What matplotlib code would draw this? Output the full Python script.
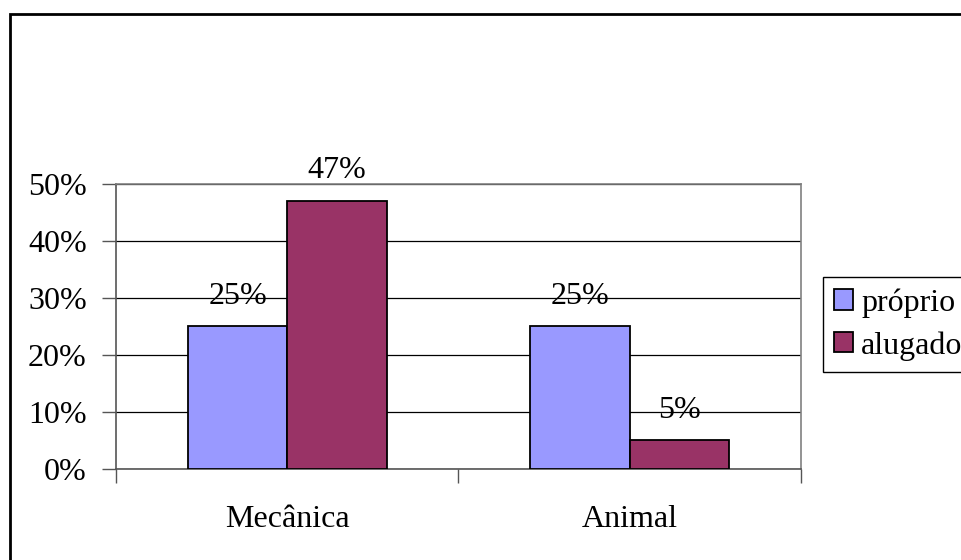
import matplotlib
matplotlib.use("Agg")
import matplotlib.pyplot as plt
from matplotlib.patches import Rectangle
from matplotlib.ticker import FixedLocator, FixedFormatter
import numpy as np

categories = ["Mecânica", "Animal"]
series_names = ["próprio", "alugado"]
proprio = [0.25, 0.25]
alugado = [0.47, 0.05]
yticks = [0.0, 0.1, 0.2, 0.3, 0.4, 0.5]
ytick_labels = ["0%", "10%", "20%", "30%", "40%", "50%"]
colors = ["#9999FF", "#993366"]

plt.rcParams['font.family'] = ['Liberation Serif', 'DejaVu Serif']
FS = 23

fig = plt.figure(figsize=(9.62, 5.60), dpi=100)
ax = fig.add_axes([116/962, 1 - 469/560, (801 - 116)/962, (469 - 183.5)/560])

x = np.arange(len(categories))
w = 0.29
series = [proprio, alugado]
offsets = [-w/2, w/2]
for vals, off, col, name in zip(series, offsets, colors, series_names):
    bars = ax.bar(x + off, vals, width=w, color=col, edgecolor="black", linewidth=1.3, label=name, zorder=3)
    for b, v in zip(bars, vals):
        ax.annotate(f"{round(v*100)}%", (b.get_x() + b.get_width()/2, v),
                    xytext=(0, 16), textcoords="offset points",
                    ha="center", va="baseline", fontsize=FS, zorder=4)

ax.set_xlim(-0.5, len(categories) - 0.5)
ax.set_ylim(0, 0.5)
ax.yaxis.set_major_locator(FixedLocator(yticks))
ax.yaxis.set_major_formatter(FixedFormatter(ytick_labels))
ax.yaxis.grid(True, color="black", linewidth=0.9, zorder=1)
ax.set_axisbelow(True)

ax.set_xticks(x)
ax.set_xticklabels(categories)
ax.set_xticks(np.arange(-0.5, len(categories)), minor=True)
ax.tick_params(axis="x", which="major", length=0, pad=26, labelsize=FS)
ax.tick_params(axis="x", which="minor", length=10, width=1, color="#555555", direction="out")
ax.tick_params(axis="y", which="major", length=10, width=1, color="#555555", direction="out", pad=11, labelsize=FS)

for s in ["top", "right"]:
    ax.spines[s].set_color("#808080")
    ax.spines[s].set_linewidth(1.2)
for s in ["left", "bottom"]:
    ax.spines[s].set_color("#555555")
    ax.spines[s].set_linewidth(1.2)

leg = fig.legend(loc="upper left", bbox_to_anchor=(823/962, 1 - 277/560), fontsize=FS,
                 frameon=True, fancybox=False, edgecolor="black", framealpha=1,
                 handlelength=0.6, handleheight=0.6, handletextpad=0.25,
                 borderpad=0.35, labelspacing=0.42, borderaxespad=0)
leg.get_frame().set_linewidth(1.0)

fig.patches.append(Rectangle((9.5/962, -0.1), 1.2, 1 - 13.5/560 + 0.1,
                             transform=fig.transFigure, fill=False,
                             edgecolor="black", linewidth=2, clip_on=False))

fig.savefig("out.png", dpi=100)
